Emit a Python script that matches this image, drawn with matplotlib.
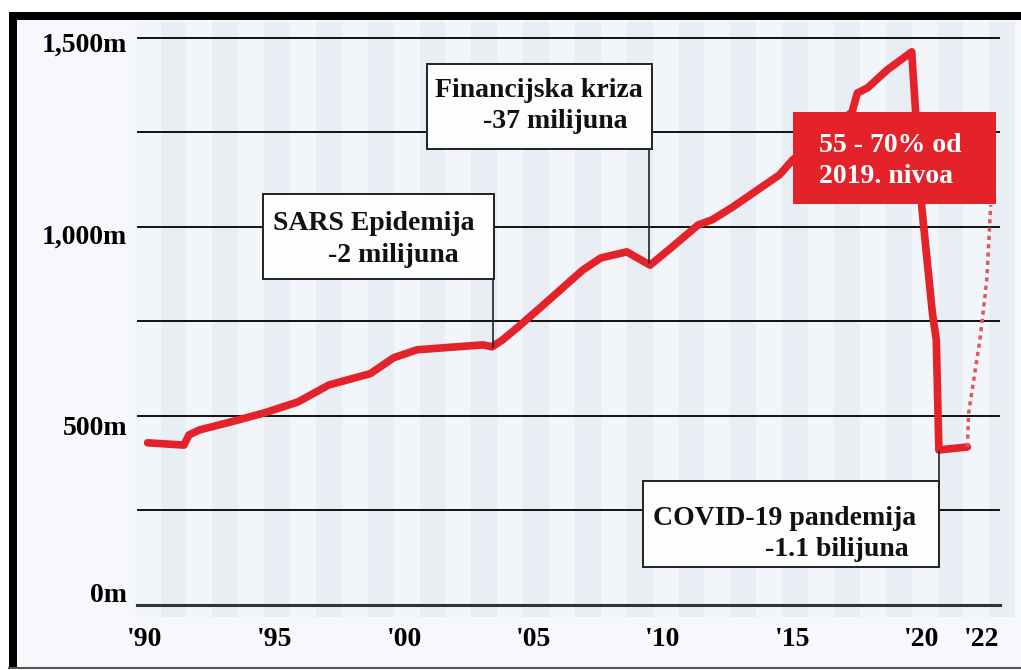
import matplotlib.pyplot as plt
from matplotlib.patches import Rectangle
from matplotlib.lines import Line2D
from matplotlib.transforms import ScaledTranslation
import numpy as np

# air passengers (millions)
years = [1990.1, 1991.5, 1991.7, 1992.1, 1993.3, 1994.6, 1995.9, 1997.1, 1998.7,
         1999.6, 2000.5, 2002.05, 2003.05, 2003.4, 2003.8, 2004.4, 2005.6, 2006.9,
         2007.6, 2008.6, 2009.5, 2010.3, 2011.35, 2011.9, 2012.7, 2013.25, 2014.5,
         2015.0, 2017.3, 2017.5, 2017.9, 2018.65, 2019.6, 2020.0, 2020.4, 2020.55,
         2020.65, 2021.75]
passengers = [429, 423, 450, 463, 484, 508, 537, 582, 612,
              654, 675, 683, 688, 683, 701, 735, 807, 886,
              918, 934, 899, 944, 1005, 1019, 1053, 1079, 1138,
              1177, 1304, 1354, 1368, 1415, 1463, 1045, 772, 701,
              410, 418]

# recovery projection (dotted)
proj_years = [2021.75, 2021.8, 2022.25, 2022.5, 2022.65]
proj_passengers = [418, 508, 709, 860, 1058]

tick_years = [1990, 1995, 2000, 2005, 2010, 2015, 2020, 2022.3]
tick_labels = ["'90", "'95", "'00", "'05", "'10", "'15", "'20", "'22"]
y_ticks = [0, 500, 1000, 1500]
y_labels = ["0m", "500m", "1,000m", "1,500m"]

events = [
    ("Financijska kriza", "-37 milijuna"),
    ("SARS Epidemija", "-2 milijuna"),
    ("COVID-19 pandemija", "-1.1 bilijuna"),
]
red_note = ("55 - 70% od", "2019. nivoa")

W, H = 1021, 670
SERIF = ["Liberation Serif", "DejaVu Serif"]
RED = "#e4222a"


def fx(x):
    return x / W


def fy(y):
    return 1 - y / H


fig = plt.figure(figsize=(W / 100, H / 100), dpi=100)
fig.patch.set_facecolor("white")

# page background + frame
fig.add_artist(Rectangle((fx(9), fy(669)), (W - 9) / W, (669 - 12) / H,
                         transform=fig.transFigure, facecolor="#f6f8fb",
                         edgecolor="none", zorder=-5))
fig.add_artist(Rectangle((fx(9), fy(669)), 8 / W, (669 - 12) / H,
                         transform=fig.transFigure, facecolor="black",
                         edgecolor="none", zorder=20))
fig.add_artist(Rectangle((fx(9), fy(20)), (W - 9) / W, 8 / H,
                         transform=fig.transFigure, facecolor="black",
                         edgecolor="none", zorder=20))
fig.add_artist(Line2D([fx(9), 1], [fy(668), fy(668)], transform=fig.transFigure,
                      color="#555555", lw=1.5, zorder=20))

ax = fig.add_axes([fx(137), fy(605), (1000 - 137) / W, (605 - 22) / H])
ax.patch.set_alpha(0)
ax.set_xlim(1989.69, 2023.01)
ax.set_ylim(0, 1542)

# faint blue vertical bands
for i, x0 in enumerate(np.arange(1989.6, 2023.5, 1.0)):
    c = "#e9eef5" if i % 2 == 1 else "#f2f5f9"
    ax.axvspan(x0, x0 + 1.0, ymin=-0.02, ymax=1.0, color=c, lw=0,
               zorder=0.1, clip_on=False)

ax.set_yticks(y_ticks)
ax.set_yticklabels(y_labels)
ax.set_yticks([250, 750, 1250], minor=True)
ax.grid(True, which="both", axis="y", color="black", lw=1.3)
ax.set_axisbelow(True)
ax.set_xticks(tick_years)
ax.set_xticklabels(tick_labels)
ax.tick_params(axis="both", which="both", length=0)
ax.tick_params(axis="y", pad=7)
ax.tick_params(axis="x", pad=16)
for lab in ax.get_xticklabels() + ax.get_yticklabels():
    lab.set_fontfamily(SERIF)
    lab.set_fontweight("bold")
    lab.set_fontsize(20)
for lab, dy in zip(ax.get_yticklabels(), [13, -10, -7, -4]):
    lab.set_transform(lab.get_transform() + ScaledTranslation(0, dy / 100, fig.dpi_scale_trans))

for s in ["left", "right", "top"]:
    ax.spines[s].set_visible(False)
ax.spines["bottom"].set_color("#333333")
ax.spines["bottom"].set_linewidth(2.2)

ax.plot(years, passengers, color=RED, lw=5.5, solid_joinstyle="round",
        solid_capstyle="round", zorder=3)
ax.plot(proj_years, proj_passengers, color="#e25560", lw=2.5, ls=(0, (1.2, 1.2)),
        zorder=3)

# annotation boxes (pixel layout)
boxes = [(427, 64, 652, 149), (263, 194, 494, 279), (643, 481, 939, 567)]
leaders = [(649, 149, 263), (493, 279, 347), (939, 481, 452)]
lines_xy = [((435, 97), (483, 128)), ((273, 230), (328, 262)), ((653, 525), (765, 556))]

for (x0, y0, x1, y1), (lx, ya, yb), (l1, l2), (t1, t2) in zip(boxes, leaders, lines_xy, events):
    fig.add_artist(Rectangle((fx(x0), fy(y1)), (x1 - x0) / W, (y1 - y0) / H,
                             transform=fig.transFigure, facecolor="#fdfdfd",
                             edgecolor="#222222", lw=1.4, zorder=5))
    fig.add_artist(Line2D([fx(lx), fx(lx)], [fy(ya), fy(yb)], transform=fig.transFigure,
                          color="#222222", lw=1.2, zorder=4))
    fig.text(fx(l1[0]), fy(l1[1]), t1, family=SERIF, fontweight="bold", fontsize=20,
             va="baseline", ha="left", color="#111111", zorder=6)
    fig.text(fx(l2[0]), fy(l2[1]), t2, family=SERIF, fontweight="bold", fontsize=20,
             va="baseline", ha="left", color="#111111", zorder=6)

fig.add_artist(Rectangle((fx(793), fy(204)), (996 - 793) / W, (204 - 112) / H,
                         transform=fig.transFigure, facecolor=RED,
                         edgecolor="none", zorder=5))
fig.text(fx(819), fy(152), red_note[0], family=SERIF, fontweight="bold", fontsize=20,
         va="baseline", ha="left", color="white", zorder=6)
fig.text(fx(819), fy(183), red_note[1], family=SERIF, fontweight="bold", fontsize=20,
         va="baseline", ha="left", color="white", zorder=6)

fig.savefig("out.png", dpi=100)
